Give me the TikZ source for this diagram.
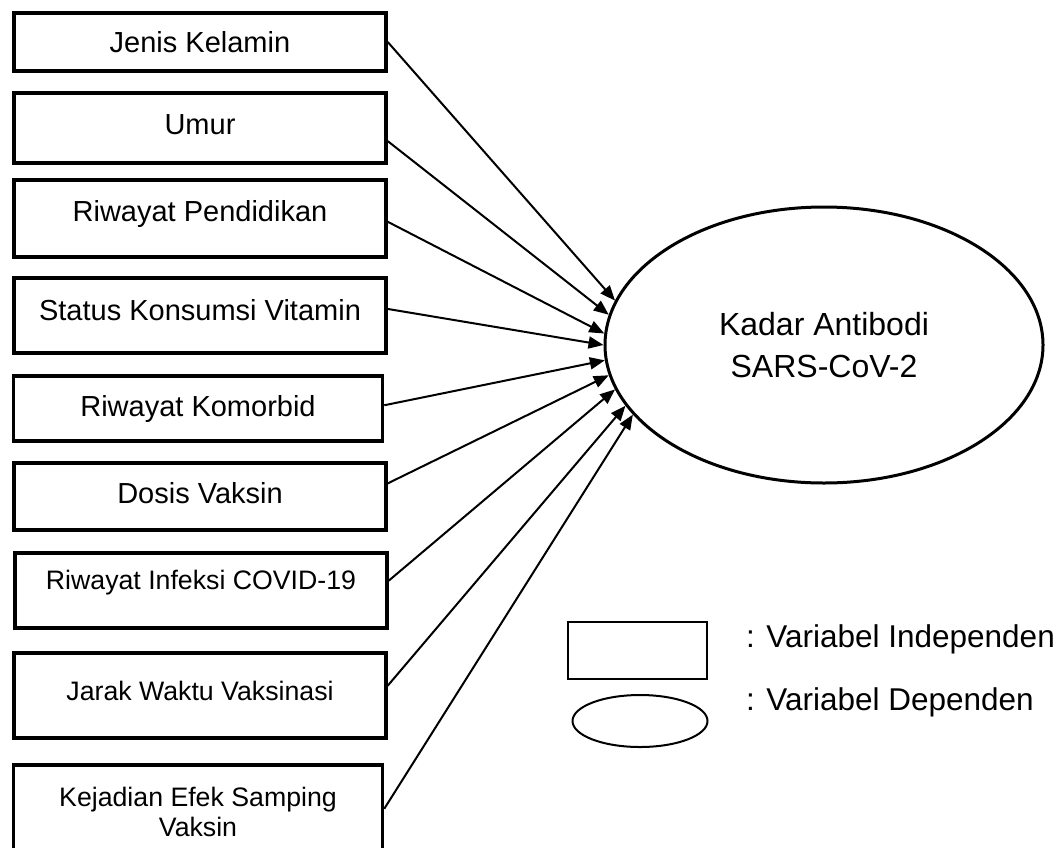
\documentclass[tikz,border=0pt]{standalone}
\usepackage{fontspec}
\setmainfont{Liberation Sans}
\usetikzlibrary{shapes,arrows.meta}

\begin{document}
\begin{tikzpicture}[->,>={Triangle[length=15pt,width=12pt]},x=1pt,y=-1pt,line width=2pt]
\tikzstyle{indep box}=[draw,rectangle,line width=3.5pt,minimum width=372pt,inner sep=0pt,align=center,font=\fontsize{29}{34}\selectfont]
\tikzstyle{smalltext}=[font=\fontsize{26.7}{30}\selectfont]
\tikzstyle{dep ellipse}=[draw,ellipse,line width=3pt,inner sep=0pt,align=center]
\tikzstyle{legend text}=[anchor=base west,inner sep=0pt,font=\fontsize{31.5}{36}\selectfont]
\useasboundingbox (0,0) rectangle (1062,847);
\node[indep box,minimum height=58pt] (jk) at (200,42) {Jenis Kelamin};
\node[indep box,minimum height=70pt,text depth=6pt] (umur) at (200,128) {Umur};
\node[indep box,minimum height=77pt,text depth=14.4pt] (pend) at (200,218.5) {Riwayat Pendidikan};
\node[indep box,minimum height=75pt,text depth=10.7pt] (vit) at (200,315.5) {Status Konsumsi Vitamin};
\node[indep box,minimum height=65pt,minimum width=369pt] (komor) at (198,408.5) {Riwayat Komorbid};
\node[indep box,minimum height=67pt,text depth=7.4pt] (dosis) at (200,496.5) {Dosis Vaksin};
\node[indep box,smalltext,minimum height=75pt,text depth=21.3pt] (infeksi) at (201,590.5) {Riwayat Infeksi COVID-19};
\node[indep box,smalltext,minimum height=85pt,text depth=9.3pt] (jarak) at (200,695.5) {Jarak Waktu Vaksinasi};
\node[indep box,smalltext,minimum height=94pt,minimum width=369pt] (efek) at (198,812) {Kejadian Efek Samping\\Vaksin};
\node[dep ellipse,minimum width=438pt,minimum height=276pt,font=\fontsize{32}{42}\selectfont] (kadar) at (824,345) {Kadar Antibodi\\SARS-CoV-2};
\path (jk.0) edge (kadar.168)
      (umur.-4) edge (kadar.172)
      (pend.-1) edge (kadar.177)
      (vit.2) edge (kadar.180)
      (komor.1) edge (kadar.184)
      (dosis.4) edge (kadar.188)
      (infeksi.3) edge (kadar.192)
      (jarak.3) edge (kadar.197)
      (efek.1) edge (kadar.200);
% legend
\node[draw,rectangle,line width=2pt,minimum width=139pt,minimum height=57pt] (legbox) at (637,650) {};
\node[draw,ellipse,line width=2pt,minimum width=135pt,minimum height=52pt] (legell) at (640,721) {};
\node[legend text] (legind) at (745,647) {: Variabel Independen};
\node[legend text] (legdep) at (745,710) {: Variabel Dependen};
\end{tikzpicture}
\end{document}
